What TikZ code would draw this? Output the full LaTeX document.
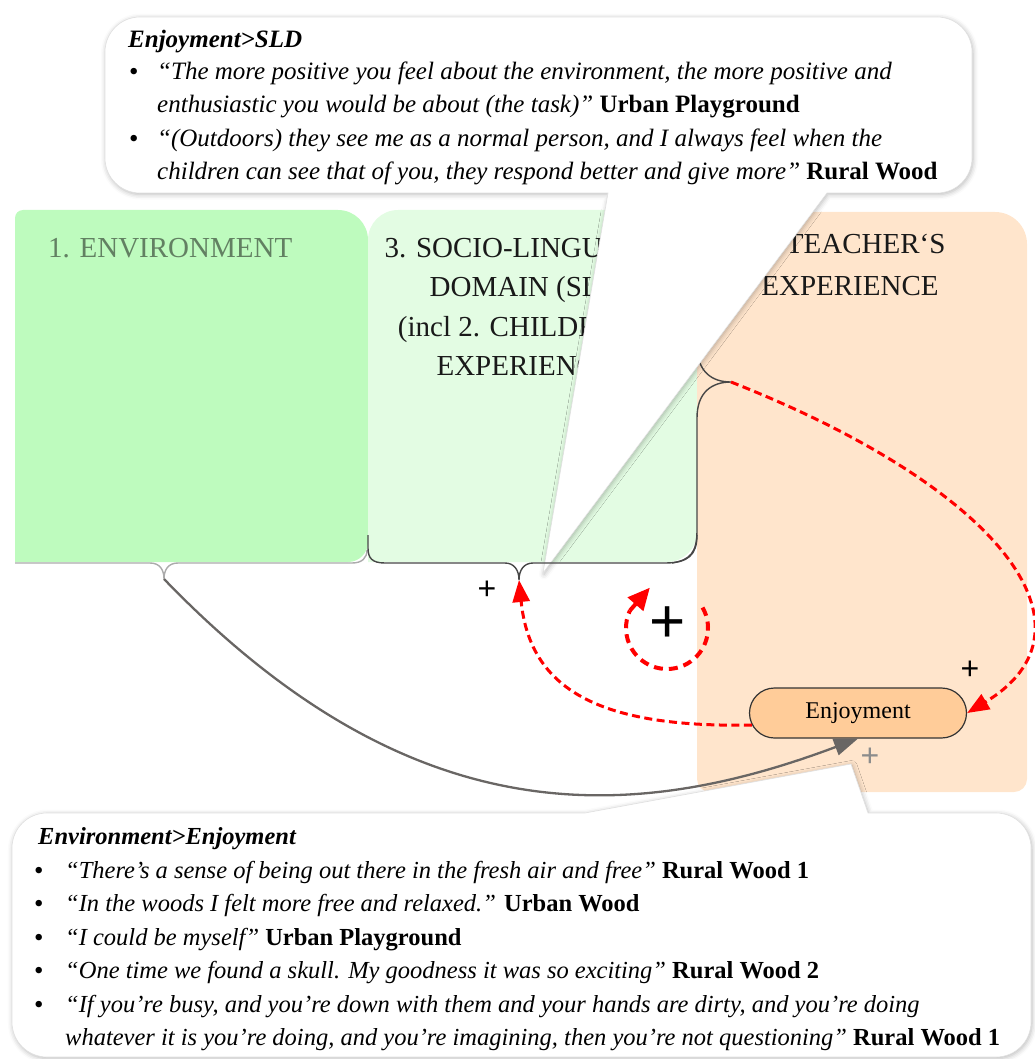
\documentclass[tikz,border=0pt]{standalone}
\usepackage{fontspec}
\setmainfont{Liberation Serif}
\newfontfamily\plusfont{Liberation Sans}
\usetikzlibrary{arrows.meta,shadows.blur,calc}

\definecolor{envgreen}{RGB}{190,251,190}
\definecolor{sldgreen}{RGB}{227,252,227}
\definecolor{teachorange}{RGB}{255,229,204}
\definecolor{enjoyfill}{RGB}{255,204,153}
\definecolor{envtext}{RGB}{98,128,98}
\definecolor{arrowgray}{RGB}{105,102,100}

\tikzset{
  colhead/.style={font=\fontsize{29}{29}\selectfont, inner sep=0pt, anchor=base, text=black!90},
  quoteline/.style={font=\fontsize{25}{25}\selectfont, inner sep=0pt, anchor=base west},
  quotelow/.style={font=\fontsize{24.5}{24.5}\selectfont, inner sep=0pt, anchor=base west},
  bulletmark/.style={font=\fontsize{27}{27}\selectfont, inner sep=0pt, anchor=base west},
  callout/.style={fill=white, draw=black!12, line width=0.6pt,
    blur shadow={shadow xshift=1pt, shadow yshift=-1.5pt, shadow blur radius=5pt, shadow opacity=28}},
  bracedark/.style={draw=black!72, line width=1.4pt},
  bracelight/.style={draw=black!33, line width=1.4pt},
  redflow/.style={draw=red, line width=3pt, dash pattern=on 8pt off 4.5pt,
    -{Triangle[length=22pt,width=17pt]}},
  redloop/.style={draw=red, line width=4pt, dash pattern=on 9pt off 6pt},
  redloophead/.style={draw=red, line width=4pt, -{Triangle[length=22pt,width=20pt]}},
  grayflow/.style={draw=arrowgray, line width=2.3pt, -{Triangle[length=24pt,width=17pt]}},
  enjoybox/.style={draw=black!80, line width=1.2pt, fill=enjoyfill, rounded corners=25pt,
    minimum width=217pt, minimum height=50pt, inner sep=0pt, font=\fontsize{24}{24}\selectfont},
  plussmall/.style={font=\plusfont\fontsize{32}{32}\selectfont, inner sep=0pt},
  plusbig/.style={font=\plusfont\fontsize{62}{62}\selectfont, inner sep=0pt}
}

\begin{document}
\begin{tikzpicture}[x=1pt,y=-1pt]
\useasboundingbox (0,0) rectangle (1034,1059);

% ---- the three domain columns ----
\fill[envgreen] (15,218) arc[start angle=180,end angle=270,radius=8] -- (338,210)
  arc[start angle=270,end angle=360,radius=30] -- (368,542)
  arc[start angle=0,end angle=90,radius=20] -- (15,562) -- cycle;
\fill[sldgreen] (368,240) arc[start angle=180,end angle=270,radius=30] -- (667,210)
  arc[start angle=270,end angle=360,radius=30] -- (697,532)
  arc[start angle=0,end angle=90,radius=30] -- (368,562) -- cycle;
\fill[teachorange] (697,212) -- (995,212) arc[start angle=270,end angle=360,radius=32]
  -- (1027,779) arc[start angle=0,end angle=90,radius=13] -- (710,792)
  arc[start angle=90,end angle=180,radius=13] -- cycle;

\node[colhead, anchor=base west, text=envtext] (envhead) at (48,257) {1. ENVIRONMENT};
\node[colhead] (sldA) at (530,257) {3. SOCIO-LINGUISTIC};
\node[colhead] (sldB) at (530,296) {DOMAIN (SLD)};
\node[colhead] (sldC) at (530,336) {(incl 2. CHILDREN‘S};
\node[colhead] (sldD) at (530,375) {EXPERIENCE)};
\node[colhead] (teachA) at (850,254) {4. TEACHER‘S};
\node[colhead] (teachB) at (850,295) {EXPERIENCE};

% brace gathering the teacher's experience
\coordinate (teachtip) at (731,382);
\draw[bracedark] (697,230) -- (697,345) .. controls (697,372) and (712,382) .. (teachtip)
  .. controls (712,382) and (697,392) .. (697,418) -- (697,530)
  .. controls (697,553) and (690,560) .. (672,563);

% ---- upper quote box ----
\path[callout] (608,193) -- (140,193) arc[start angle=90,end angle=180,radius=35]
  -- (105,52) arc[start angle=180,end angle=270,radius=35]
  -- (937,17) arc[start angle=270,end angle=360,radius=35]
  -- (972,158) arc[start angle=0,end angle=90,radius=35]
  -- (827,193) -- (543,573) -- cycle;
\node[quoteline] (qh1) at (128,48) {\textbf{\textit{Enjoyment>SLD}}};
\node[bulletmark] (qb1) at (129,81) {•};
\node[quoteline] (q1a) at (157,80) {\textit{“The more positive you feel about the environment, the more positive and}};
\node[quoteline] (q1b) at (157,113) {\textit{enthusiastic you would be about (the task)”} \textbf{Urban Playground}};
\node[bulletmark] (qb2) at (129,148) {•};
\node[quoteline] (q1c) at (157,147) {\textit{“(Outdoors) they see me as a normal person, and I always feel when the}};
\node[quoteline] (q1d) at (157,180) {\textit{children can see that of you, they respond better and give more”} \textbf{Rural Wood}};

% ---- braces under the green columns ----
\coordinate (envtip) at (164,579);
\coordinate (sldtip) at (519,580);
\draw[bracelight] (15,563) -- (150,563) .. controls (160,563) and (164,570) .. (envtip)
  .. controls (164,570) and (168,563) .. (178,563) -- (352,563)
  .. controls (362,563) and (367,558) .. (367,550);
\draw[bracedark] (368,535) -- (368,548) .. controls (368,558) and (372,563) .. (385,563)
  -- (505,563) .. controls (514,563) and (519,570) .. (sldtip)
  .. controls (519,570) and (524,563) .. (533,563) -- (665,563)
  .. controls (688,563) and (697,555) .. (697,535);

% ---- lower quote box ----
\path[callout] (12,848) arc[start angle=180,end angle=270,radius=35] -- (585,813)
  -- (851,764) -- (868,813) -- (996,813) arc[start angle=270,end angle=360,radius=35]
  -- (1031,1022) arc[start angle=0,end angle=90,radius=35]
  -- (47,1057) arc[start angle=90,end angle=180,radius=35] -- cycle;
\node[quotelow] (qh2) at (38,844) {\textbf{\textit{Environment>Enjoyment}}};
\node[bulletmark] (pb1) at (34,879) {•};
\node[quotelow] (p1) at (65,878) {\textit{“There’s a sense of being out there in the fresh air and free”} \textbf{Rural Wood 1}};
\node[bulletmark] (pb2) at (34,912) {•};
\node[quotelow] (p2) at (65,911) {\textit{“In the woods I felt more free and relaxed.”} \textbf{Urban Wood}};
\node[bulletmark] (pb3) at (34,946) {•};
\node[quotelow] (p3) at (65,945) {\textit{“I could be myself”} \textbf{Urban Playground}};
\node[bulletmark] (pb4) at (34,979) {•};
\node[quotelow] (p4) at (65,978) {\textit{“One time we found a skull. My goodness it was so exciting”} \textbf{Rural Wood 2}};
\node[bulletmark] (pb5) at (34,1013) {•};
\node[quotelow] (p5a) at (65,1012) {\textit{“If you're busy, and you're down with them and your hands are dirty, and you're doing}};
\node[quotelow] (p5b) at (65,1045) {\textit{whatever it is you're doing, and you’re imagining, then you're not questioning”} \textbf{Rural Wood 1}};

% ---- enjoyment and its links ----
\node[enjoybox] (enj) at (858,713) {Enjoyment};

\draw[grayflow] (envtip) .. controls (410,834) and (628,825) .. (enj.south);
\draw[redflow] (teachtip) .. controls (1005,490) and (1105,630) .. (enj.east);
\draw[redflow] ($(enj.west)+(3,12)$) .. controls (600,728) and (530,690) .. (sldtip);

% self-reinforcing loop round the central plus
\node[plusbig] (bigplus) at (668,625) {+};
\coordinate (loopc) at ($(bigplus.center)+(-1,3)$);
\coordinate (loopend) at ($(loopc)+(205:41)$);
\draw[redloop] ($(loopc)+(-30:41)$) arc[start angle=-30,end angle=205,radius=41];
\draw[redloophead] (loopend) -- ($(loopend)+(20,-23)$);

\node[plussmall] (plusA) at (487,590) {+};
\node[plussmall] (plusB) at (970,670) {+};
\node[plussmall, text=black!45] (plusC) at (870,757) {+};
\end{tikzpicture}
\end{document}
